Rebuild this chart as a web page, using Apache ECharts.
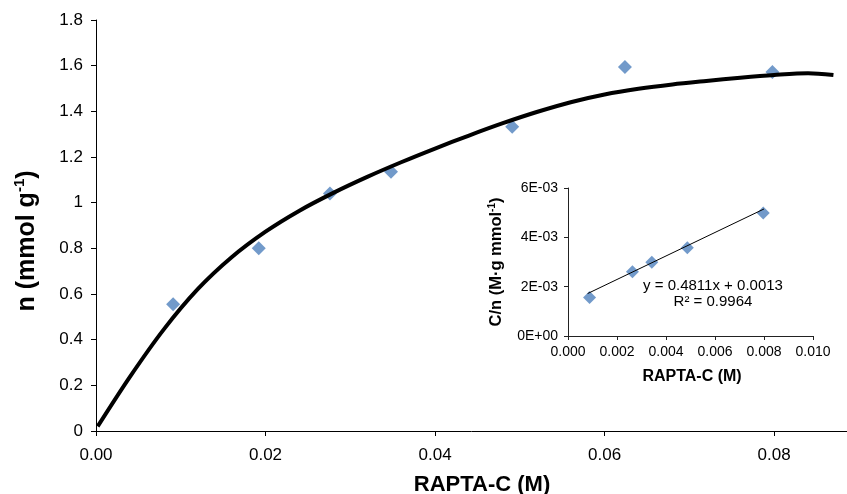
<!DOCTYPE html>
<html>
<head>
<meta charset="utf-8">
<script src="https://cdn.jsdelivr.net/npm/echarts@6/dist/echarts.min.js"></script>
<style>
html,body{margin:0;padding:0;background:#fff;}
#chart{width:847px;height:494px;}
</style>
</head>
<body>
<div id="chart"></div>
<script>
// ---- Main chart data ----
const mainX = [0.0091, 0.0192, 0.0276, 0.0348, 0.0491, 0.0624, 0.0798];
const mainY = [0.555, 0.800, 1.040, 1.135, 1.332, 1.594, 1.572];
const curveX = [0.0002, 0.004, 0.008, 0.012, 0.016, 0.020, 0.024, 0.028, 0.032, 0.036, 0.040, 0.044, 0.048, 0.052, 0.056, 0.060, 0.064, 0.068, 0.072, 0.076, 0.080, 0.084, 0.087];
const curveY = [0.020, 0.237, 0.445, 0.621, 0.761, 0.873, 0.965, 1.043, 1.113, 1.177, 1.237, 1.294, 1.348, 1.397, 1.440, 1.474, 1.499, 1.518, 1.533, 1.547, 1.559, 1.567, 1.559];
const mainXTicks = [0, 0.02, 0.04, 0.06, 0.08];
const mainXTickLabels = ['0.00', '0.02', '0.04', '0.06', '0.08'];
const mainYTickLabels = ['0', '0.2', '0.4', '0.6', '0.8', '1', '1.2', '1.4', '1.6', '1.8'];

// ---- Inset data ----
const insetX = [0.00088, 0.00263, 0.00342, 0.00487, 0.00797];
const insetY = [0.00156, 0.00260, 0.00299, 0.00358, 0.00499];
const trendX = [0.0008, 0.0080];
const trendY = [0.00172, 0.00515];
const insetXTickLabels = ['0.000', '0.002', '0.004', '0.006', '0.008', '0.010'];
const insetYTickLabels = ['0E+00', '2E-03', '4E-03', '6E-03'];
const equationText = 'y = 0.4811x + 0.0013';
const r2Text = 'R² = 0.9964';

const FONT = '"Liberation Sans", Arial, sans-serif';
const BLUE = '#4F81BD';

const chart = echarts.init(document.getElementById('chart'), null, {renderer: 'canvas'});

const zip = (xs, ys) => xs.map((x, i) => [x, ys[i]]);

const option = {
  animation: false,
  backgroundColor: '#fff',
  textStyle: {fontFamily: FONT, color: '#000'},
  grid: [
    {left: 96, top: 20, width: 751, height: 411, containLabel: false},
    {left: 568, top: 188, width: 245, height: 148, containLabel: false}
  ],
  xAxis: [
    {
      type: 'value', gridIndex: 0, min: 0, max: 0.0886,
      axisLine: {show: true, onZero: false, lineStyle: {color: '#000', width: 1}},
      axisTick: {show: true, inside: false, length: 5, lineStyle: {color: '#000'}, customValues: mainXTicks},
      axisLabel: {
        fontSize: 17, color: '#000', fontFamily: FONT, margin: 16,
        customValues: mainXTicks,
        formatter: v => mainXTickLabels[Math.round(v / 0.02)]
      },
      splitLine: {show: false}
    },
    {
      type: 'value', gridIndex: 1, min: 0, max: 0.010, interval: 0.002,
      axisLine: {show: true, onZero: false, lineStyle: {color: '#222', width: 1}},
      axisTick: {show: true, inside: false, length: 4, lineStyle: {color: '#222'}},
      axisLabel: {
        fontSize: 14, color: '#000', fontFamily: FONT, margin: 9,
        formatter: v => insetXTickLabels[Math.round(v / 0.002)]
      },
      splitLine: {show: false}
    }
  ],
  yAxis: [
    {
      type: 'value', gridIndex: 0, min: 0, max: 1.8, interval: 0.2,
      axisLine: {show: true, onZero: false, lineStyle: {color: '#000', width: 1}},
      axisTick: {show: true, inside: false, length: 5, lineStyle: {color: '#000'}},
      axisLabel: {
        fontSize: 17, color: '#000', fontFamily: FONT, margin: 13,
        formatter: v => mainYTickLabels[Math.round(v / 0.2)]
      },
      splitLine: {show: false}
    },
    {
      type: 'value', gridIndex: 1, min: 0, max: 0.006, interval: 0.002,
      axisLine: {show: true, onZero: false, lineStyle: {color: '#222', width: 1}},
      axisTick: {show: true, inside: false, length: 4, lineStyle: {color: '#222'}},
      axisLabel: {
        fontSize: 14, color: '#000', fontFamily: FONT, margin: 10,
        formatter: v => insetYTickLabels[Math.round(v / 0.002)]
      },
      splitLine: {show: false}
    }
  ],
  series: [
    {
      type: 'scatter', xAxisIndex: 0, yAxisIndex: 0,
      data: zip(mainX, mainY),
      symbol: 'diamond', symbolSize: 14,
      itemStyle: {color: BLUE},
      z: 2
    },
    {
      type: 'line', xAxisIndex: 0, yAxisIndex: 0,
      data: zip(curveX, curveY),
      showSymbol: false, smooth: 0.3,
      lineStyle: {color: '#000', width: 4},
      z: 3
    },
    {
      type: 'scatter', xAxisIndex: 1, yAxisIndex: 1,
      data: zip(insetX, insetY),
      symbol: 'diamond', symbolSize: 13,
      itemStyle: {color: BLUE},
      z: 2
    },
    {
      type: 'line', xAxisIndex: 1, yAxisIndex: 1,
      data: zip(trendX, trendY),
      showSymbol: false,
      lineStyle: {color: '#000', width: 1},
      z: 3
    }
  ],
  graphic: [
    {
      type: 'text', position: [482, 485],
      style: {
        text: 'RAPTA-C (M)', align: 'center', verticalAlign: 'middle',
        fontFamily: FONT, fontSize: 22, fontWeight: 'bold', fill: '#000'
      }
    },
    {
      type: 'text', position: [26, 241], rotation: Math.PI / 2,
      style: {
        text: '{a|n (mmol g}{s|-1}{a|)}', align: 'center', verticalAlign: 'middle',
        rich: {
          a: {fontFamily: FONT, fontSize: 25, fontWeight: 'bold', fill: '#000', lineHeight: 27, verticalAlign: 'bottom'},
          s: {fontFamily: FONT, fontSize: 15, fontWeight: 'bold', fill: '#000', lineHeight: 27, verticalAlign: 'top'}
        }
      }
    },
    {
      type: 'text', position: [692, 377],
      style: {
        text: 'RAPTA-C (M)', align: 'center', verticalAlign: 'middle',
        fontFamily: FONT, fontSize: 16, fontWeight: 'bold', fill: '#000'
      }
    },
    {
      type: 'text', position: [496, 262], rotation: Math.PI / 2,
      style: {
        text: '{a|C/n (M·g mmol}{s|-1}{a|)}', align: 'center', verticalAlign: 'middle',
        rich: {
          a: {fontFamily: FONT, fontSize: 16.5, fontWeight: 'bold', fill: '#000', lineHeight: 18, verticalAlign: 'bottom'},
          s: {fontFamily: FONT, fontSize: 10, fontWeight: 'bold', fill: '#000', lineHeight: 18, verticalAlign: 'top'}
        }
      }
    },
    {
      type: 'text', position: [713, 286],
      style: {
        text: equationText, align: 'center', verticalAlign: 'middle',
        fontFamily: FONT, fontSize: 15, fill: '#000'
      }
    },
    {
      type: 'text', position: [713, 302],
      style: {
        text: r2Text, align: 'center', verticalAlign: 'middle',
        fontFamily: FONT, fontSize: 15, fill: '#000'
      }
    }
  ]
};
chart.setOption(option);
</script>
</body>
</html>
